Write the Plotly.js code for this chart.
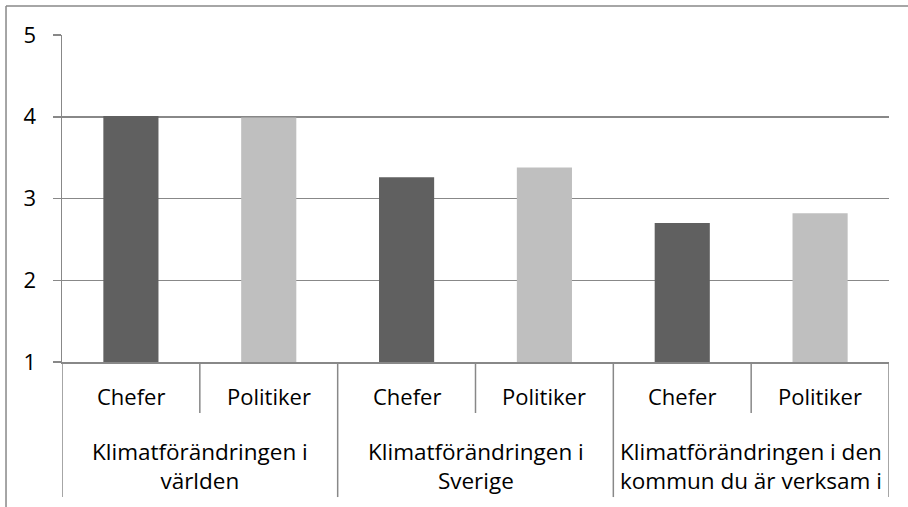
<!DOCTYPE html>
<html>
<head>
<meta charset="utf-8">
<script src="https://cdn.plot.ly/plotly-3.0.1.min.js"></script>
<style>
html,body{margin:0;padding:0;background:#fff;}
#chart{width:908px;height:507px;}
</style>
</head>
<body>
<div id="chart"></div>
<script>
// Data
var groups = ['Klimatförändringen i<br>världen', 'Klimatförändringen i<br>Sverige', 'Klimatförändringen i den<br>kommun du är verksam i'];
var roles = ['Chefer', 'Politiker'];
var chefer = [4.01, 3.26, 2.70];
var politiker = [3.99, 3.38, 2.82];
var yTicks = [1, 2, 3, 4, 5];

var FONT = 'Open Sans, sans-serif';
var GRID = '#888888';

var xChef = groups.map(function(g, i){ return i * 2; });
var xPol = groups.map(function(g, i){ return i * 2 + 1; });

var traces = [
  {type: 'bar', name: roles[0], x: xChef, y: chefer, width: 0.4,
   marker: {color: '#606060', line: {width: 0}}, hoverinfo: 'y'},
  {type: 'bar', name: roles[1], x: xPol, y: politiker, width: 0.4,
   marker: {color: '#bfbfbf', line: {width: 0}}, hoverinfo: 'y'}
];

var annotations = [];
var shapes = [];
groups.forEach(function(g, i){
  roles.forEach(function(r, j){
    annotations.push({x: i * 2 + j, xref: 'x', y: -0.104, yref: 'paper',
      text: r, showarrow: false, xanchor: 'center', yanchor: 'middle',
      font: {family: FONT, size: 22, color: '#000'}});
  });
  annotations.push({x: i * 2 + 0.5, xref: 'x', y: -0.318, yref: 'paper',
    text: g, showarrow: false, xanchor: 'center', yanchor: 'middle',
    font: {family: FONT, size: 22.5, color: '#000'}});
  // inner divider
  shapes.push({type: 'line', xref: 'x', yref: 'paper', x0: i * 2 + 0.5, x1: i * 2 + 0.5,
    y0: 0, y1: -0.156, line: {color: GRID, width: 1.5}});
});
// outer dividers
for (var k = 0; k <= groups.length; k++) {
  shapes.push({type: 'line', xref: 'x', yref: 'paper', x0: k * 2 - 0.5, x1: k * 2 - 0.5,
    y0: 0, y1: -0.413, line: {color: GRID, width: 1.5}});
}
// outer chart border (top & left)
shapes.push({type: 'line', xref: 'paper', yref: 'paper', x0: -0.0677, x1: 1.05,
  y0: 1.0887, y1: 1.0887, line: {color: GRID, width: 1.5}});
shapes.push({type: 'line', xref: 'paper', yref: 'paper', x0: -0.0677, x1: -0.0677,
  y0: 1.0887, y1: -0.5, line: {color: GRID, width: 1.5}});

var layout = {
  width: 908, height: 507,
  margin: {l: 62, r: 19, t: 35, b: 145, pad: 0},
  paper_bgcolor: '#fff', plot_bgcolor: '#fff',
  showlegend: false,
  barmode: 'overlay',
  font: {family: FONT, size: 22, color: '#000'},
  xaxis: {
    type: 'linear', range: [-0.5, 5.5], showticklabels: false, ticks: '',
    showgrid: false, zeroline: false, showline: true, linecolor: GRID, linewidth: 1.5,
    fixedrange: true
  },
  yaxis: {
    range: [1, 5], tickvals: yTicks, ticktext: yTicks.map(String),
    showgrid: true, gridcolor: GRID, gridwidth: 1.5,
    zeroline: false, showline: true, linecolor: GRID, linewidth: 1.5,
    ticks: 'outside', ticklen: 8, tickcolor: GRID, tickwidth: 1.5,
    ticklabelstandoff: 12,
    tickfont: {family: FONT, size: 22, color: '#000'},
    fixedrange: true
  },
  annotations: annotations,
  shapes: shapes
};

Plotly.newPlot('chart', traces, layout, {displayModeBar: false, staticPlot: true});
</script>
</body>
</html>
